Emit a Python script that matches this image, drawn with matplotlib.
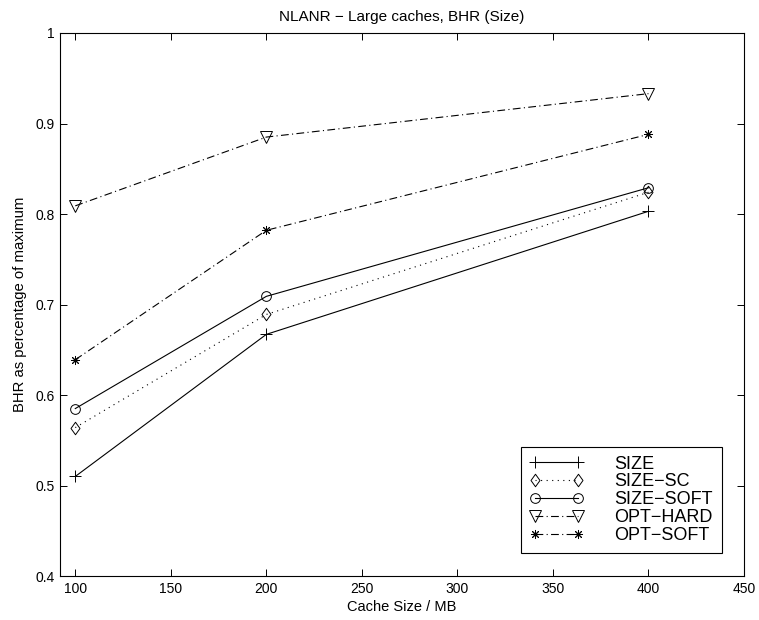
import numpy as np
import matplotlib
matplotlib.use('Agg')
import matplotlib.pyplot as plt
from matplotlib.path import Path

plt.rcParams.update({'font.family': ['Liberation Sans', 'DejaVu Sans'],
                     'font.size': 10,
                     'axes.linewidth': 0.8,
                     'xtick.direction': 'in',
                     'ytick.direction': 'in',
                     'xtick.top': True,
                     'ytick.right': True,
                     'xtick.major.size': 5,
                     'ytick.major.size': 5,
                     'xtick.major.width': 0.7,
                     'ytick.major.width': 0.7,
                     'axes.unicode_minus': True})

cache_size = [100, 200, 400]
size_bhr = [0.510, 0.667, 0.803]
size_sc_bhr = [0.564, 0.689, 0.824]
size_soft_bhr = [0.585, 0.709, 0.829]
opt_hard_bhr = [0.809, 0.885, 0.933]
opt_soft_bhr = [0.639, 0.782, 0.888]

labels = ['SIZE', 'SIZE\u2212SC', 'SIZE\u2212SOFT', 'OPT\u2212HARD', 'OPT\u2212SOFT']
x_ticks = [100, 150, 200, 250, 300, 350, 400, 450]
y_ticks = [0.4, 0.5, 0.6, 0.7, 0.8, 0.9, 1.0]
y_tick_labels = ['0.4', '0.5', '0.6', '0.7', '0.8', '0.9', '1']

# matlab style diamond, a bit taller than wide
diamond = Path([(0, 1), (0.72, 0), (0, -1), (-0.72, 0), (0, 1)],
               [Path.MOVETO, Path.LINETO, Path.LINETO, Path.LINETO, Path.CLOSEPOLY])
dashdot = (0, (7, 3, 1, 3))
dotted = (0, (1, 4))

fig = plt.figure(figsize=(7.59, 6.20), dpi=100)
ax = fig.add_axes([60 / 759, 44 / 620, 684 / 759, 543 / 620])

common = dict(color='black', lw=0.8, mfc='none', mec='black', mew=0.7)
ax.plot(cache_size, size_bhr, marker='+', ms=8, ls='-', label=labels[0], **common)
ax.plot(cache_size, size_sc_bhr, marker=diamond, ms=9, ls=dotted, label=labels[1], **common)
ax.plot(cache_size, size_soft_bhr, marker='o', ms=7, ls='-', label=labels[2], **common)
ax.plot(cache_size, opt_hard_bhr, marker='v', ms=8.5, ls=dashdot, label=labels[3], **common)
ax.plot(cache_size, opt_soft_bhr, marker=(8, 2, 0), ms=6.5, ls=dashdot, label=labels[4], **common)

ax.set_xlim(92, 450)
ax.set_ylim(0.4, 1.0)
ax.set_xticks(x_ticks)
ax.set_yticks(y_ticks)
ax.set_yticklabels(y_tick_labels)
ax.tick_params(labelsize=10, pad=4)

ax.set_title('NLANR \u2212 Large caches, BHR (Size)', fontsize=11, pad=8.5)
ax.set_xlabel('Cache Size / MB', fontsize=10.5, labelpad=3)
ax.set_ylabel('BHR as percentage of maximum', fontsize=10.75, labelpad=6)

leg = ax.legend(loc='lower right', bbox_to_anchor=(0.968, 0.042), fontsize=13,
                numpoints=2, handlelength=3.0, handletextpad=1.7,
                borderpad=0.5, labelspacing=0.05, fancybox=False,
                framealpha=1, edgecolor='black', borderaxespad=0)
leg.get_frame().set_linewidth(0.8)

fig.savefig('out.png', dpi=100)
